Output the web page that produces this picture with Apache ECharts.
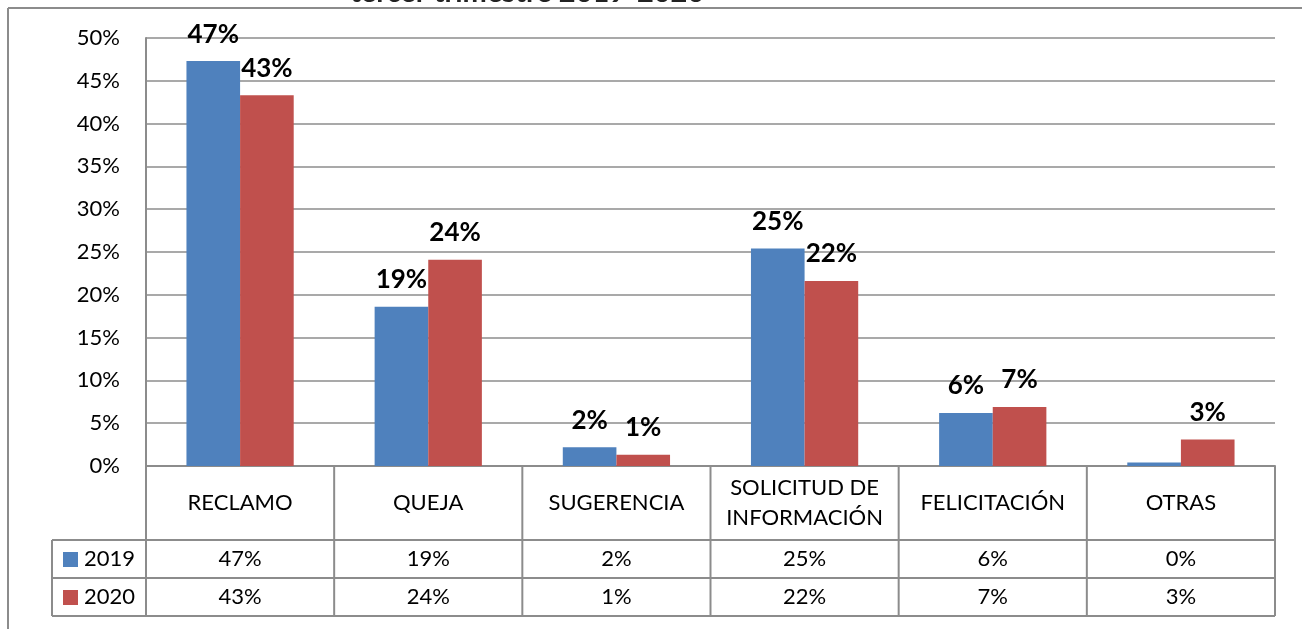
<!DOCTYPE html>
<html>
<head>
<meta charset="utf-8">
<script src="https://cdn.jsdelivr.net/npm/echarts@6/dist/echarts.min.js"></script>
<style>html,body{margin:0;padding:0;background:#fff}#c{width:1302px;height:629px}</style>
</head>
<body>
<div id="c"></div>
<script>
const titleText = 'tercer trimestre 2019-2020';
const categories = ['RECLAMO', 'QUEJA', 'SUGERENCIA', 'SOLICITUD DE\nINFORMACIÓN', 'FELICITACIÓN', 'OTRAS'];
const seriesNames = ['2019', '2020'];
const values2019 = [47.3, 18.6, 2.2, 25.4, 6.2, 0.4];
const values2020 = [43.3, 24.1, 1.3, 21.6, 6.9, 3.1];
const table2019 = ['47%', '19%', '2%', '25%', '6%', '0%'];
const table2020 = ['43%', '24%', '1%', '22%', '7%', '3%'];
const yMin = 0, yMax = 50, yInterval = 5;

const FONT = 'Lato';
const LINE = '#8c8c8c';
const colors = ['#4F81BD', '#C0504D'];
const G = {left: 146, right: 27, top: 38, bottom: 163};

const chart = echarts.init(document.getElementById('c'), null, {renderer: 'canvas'});

function labelFmt(p) {
  const r = Math.round(p.value);
  return r === 0 ? '' : r + '%';
}

const option = {
  animation: false,
  backgroundColor: '#fff',
  title: {
    text: titleText, left: 345, top: -27,
    textStyle: {fontFamily: FONT, fontWeight: 'bold', fontSize: 29, color: '#222'}
  },
  grid: {left: G.left, right: G.right, top: G.top, bottom: G.bottom},
  xAxis: {
    type: 'category', data: categories,
    axisLine: {show: true, lineStyle: {color: LINE, width: 2}},
    axisTick: {show: false},
    axisLabel: {show: false},
    splitLine: {show: false}
  },
  yAxis: {
    type: 'value', min: yMin, max: yMax, interval: yInterval,
    axisLine: {show: true, lineStyle: {color: LINE, width: 2}},
    axisTick: {show: false},
    axisLabel: {formatter: '{value}%', fontFamily: FONT, fontSize: 22, color: '#000', margin: 26},
    splitLine: {lineStyle: {color: LINE, width: 1.5}}
  },
  series: [
    {name: seriesNames[0], type: 'bar', data: values2019, barGap: '0%', barCategoryGap: '43%',
      itemStyle: {color: colors[0]},
      label: {show: true, position: 'top', distance: 14, formatter: labelFmt,
        fontFamily: FONT, fontWeight: 'bold', fontSize: 26, color: '#000'}},
    {name: seriesNames[1], type: 'bar', data: values2020, barGap: '0%', barCategoryGap: '43%',
      itemStyle: {color: colors[1]},
      label: {show: true, position: 'top', distance: 14, formatter: labelFmt,
        fontFamily: FONT, fontWeight: 'bold', fontSize: 26, color: '#000'}}
  ]
};
chart.setOption(option);

// Data table drawn below the axis, aligned with category positions
const H = 629;
const axisY = H - G.bottom;           // 466
const catRowH = 74, rowH = 38;
const y1 = axisY + catRowH;           // 540
const y2 = y1 + rowH;                 // 578
const y3 = y2 + rowH;                 // 616
const legendLeft = 52;
const plotW = 1302 - G.left - G.right;
const cw = plotW / categories.length;
const gl = [];
function hline(x1, x2, y) {
  gl.push({type: 'line', shape: {x1, y1: y, x2, y2: y}, style: {stroke: LINE, lineWidth: 2}, z: 10});
}
function vline(x, ya, yb) {
  gl.push({type: 'line', shape: {x1: x, y1: ya, x2: x, y2: yb}, style: {stroke: LINE, lineWidth: 2}, z: 10});
}
function txt(x, y, t, opts) {
  gl.push(Object.assign({type: 'text', x, y, style: Object.assign({text: t, fill: '#000',
    font: '22px ' + FONT, textAlign: 'center', textVerticalAlign: 'middle'}, opts || {})}, {z: 11}));
}
// outer chart border
hline(8, 1302, 8);
vline(8, 8, 629);

const xLeft = G.left, xRight = 1302 - G.right;
hline(legendLeft, xRight, y1);
hline(legendLeft, xRight, y2);
hline(legendLeft, xRight, y3);
vline(legendLeft, y1, y3);
vline(xLeft, axisY, y3);
categories.forEach((c, i) => {
  const cx = chart.convertToPixel({xAxisIndex: 0}, i);
  vline(cx + cw / 2, axisY, y3);
  gl.push({type: 'text', x: cx, y: (axisY + y1) / 2, z: 11,
    style: {text: c, fill: '#000', font: '22px ' + FONT, textAlign: 'center', textVerticalAlign: 'middle', lineHeight: 30}});
  txt(cx, (y1 + y2) / 2, table2019[i]);
  txt(cx, (y2 + y3) / 2, table2020[i]);
});
// legend keys in table
[[seriesNames[0], (y1 + y2) / 2, colors[0]], [seriesNames[1], (y2 + y3) / 2, colors[1]]].forEach(([n, y, col]) => {
  gl.push({type: 'rect', shape: {x: 63, y: y - 7, width: 15, height: 15}, style: {fill: col}, z: 11});
  txt(84, y, n, {textAlign: 'left'});
});
chart.setOption({graphic: {elements: gl}});
</script>
</body>
</html>
